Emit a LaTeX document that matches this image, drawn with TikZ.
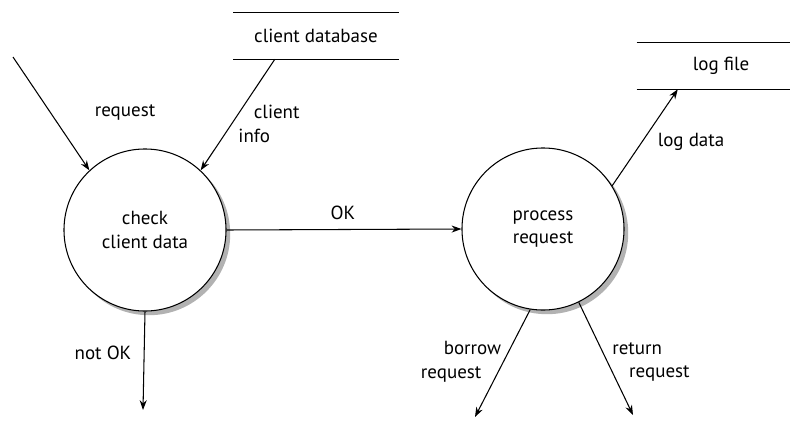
\documentclass[tikz,border=0pt]{standalone}
\usepackage{fontspec}
\setmainfont{PT Sans}
\usetikzlibrary{positioning,arrows.meta}

\begin{document}
\begin{tikzpicture}[x=0.025cm, y=-0.025cm, >={Stealth[length=7pt,width=5pt]},
  font=\fontsize{13.5}{17}\selectfont,
  proc/.style={draw, circle, fill=white, line width=0.75pt, minimum size=4.05cm, align=center},
  procshadow/.style={fill=black!30, draw=none},
  store/.style={minimum height=1.15cm, inner sep=0pt},
  flow/.style={->, line width=0.75pt},
  lbl/.style={inner sep=0pt, align=left}]
\useasboundingbox (0,0) rectangle (790,421);
% process shadows
\path[procshadow] (149,234) circle [radius=2.03cm];
\path[procshadow] (547,233) circle [radius=2.03cm];
% processes
\node[proc] (chk) at (145,230) {check\\client data};
\node[proc] (prc) at (543,229) {process\\request};
% data stores
\node[store, minimum width=4.13cm] (db) at (316,36) {client database};
\node[store, minimum width=4.2cm] (log) at (721,66) {log file};
\foreach \s in {db,log}{
  \draw[line width=0.75pt] (\s.north west) -- (\s.north east);
  \draw[line width=0.75pt] (\s.south west) -- (\s.south east);}
% free ends
\coordinate (src) at (13,57);
\coordinate (nok) at (143,410);
\coordinate (brw) at (475,417);
\coordinate (ret) at (633,415);
% flows
\draw[flow] (src) -- (chk.133);
\draw[flow] ([xshift=-1.03cm]db.south) -- (chk.47);
\draw[flow] (chk.east) -- (prc.west);
\draw[flow] (chk.south) -- (nok);
\draw[flow] (prc.32) -- ([xshift=-1.08cm]log.south);
\draw[flow] (prc.261) -- (brw);
\draw[flow] (prc.296) -- (ret);
% labels
\node[lbl] at (125,112) {request};
\node[lbl] at (269,124) {\hspace*{11pt}client\\info};
\node[lbl] at (343,213) {OK};
\node[lbl] at (103,353) {not OK};
\node[lbl] at (691,142) {log data};
\node[lbl, align=right] at (461,362) {borrow\\request\hspace*{14pt}};
\node[lbl] at (651,362) {return\\\hspace*{12pt}request};
\end{tikzpicture}
\end{document}
